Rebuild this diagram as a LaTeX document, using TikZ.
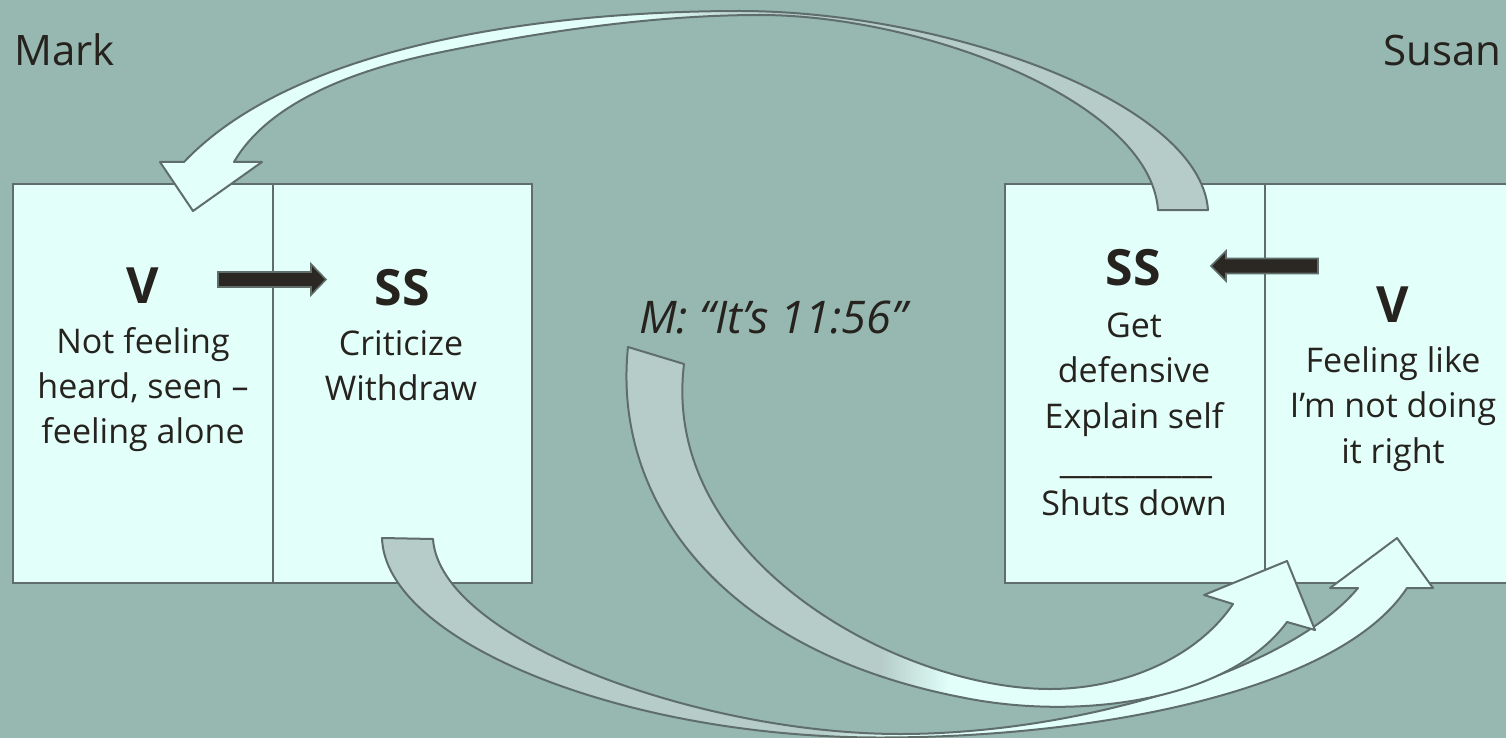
\documentclass[tikz,border=0pt]{standalone}
\usepackage{fontspec}
\setmainfont{Open Sans}
\definecolor{bg}{RGB}{151,184,177}
\definecolor{cellfill}{RGB}{226,255,250}
\definecolor{bandgray}{RGB}{181,204,200}
\definecolor{edge}{RGB}{95,110,106}
\definecolor{ink}{RGB}{38,34,30}
\definecolor{blockink}{RGB}{43,39,34}
\begin{document}
\begin{tikzpicture}[x=1pt,y=-1pt,
  cell/.style={draw=edge, line width=2.2pt, fill=cellfill, anchor=north west,
    minimum height=399pt, minimum width=260pt, inner sep=0pt},
  bodytext/.style={text=ink, font=\fontsize{34}{45}\selectfont, anchor=base, inner sep=0pt},
  titletext/.style={text=ink, font=\bfseries\fontsize{50}{52}\selectfont, anchor=base, inner sep=0pt},
  persontext/.style={text=ink, font=\fontsize{42}{46}\selectfont, anchor=base west, inner sep=0pt},
  band/.style={draw=edge, line width=2pt, line join=round},
  blockarrow/.style={draw=edge, line width=1.6pt, fill=blockink, line join=miter}]

\fill[bg] (0,0) rectangle (1506,738);
\useasboundingbox (0,0) rectangle (1506,738);

% Mark's two cells
\node[cell] (mv) at (12,183) {};
\node[cell, minimum width=259pt] (mss) at (272,183) {};
% Susan's two cells
\node[cell] (sss) at (1004,183) {};
\node[cell] (sv) at (1264,183) {};

% names
\node[persontext] (mark) at (14,66) {Mark};
\node[persontext] (susan) at (1383,66) {Susan};

% Mark: vulnerability
\node[titletext] (mvt) at (143,303) {V};
\node[bodytext] (mv1) at (143,353) {Not feeling};
\node[bodytext] (mv2) at (143,398) {heard, seen –};
\node[bodytext] (mv3) at (143,443) {feeling alone};
% Mark: survival strategy
\node[titletext] (msst) at (402,305) {SS};
\node[bodytext] (mss1) at (401,355) {Criticize};
\node[bodytext] (mss2) at (401,400) {Withdraw};

% Susan: survival strategy
\node[titletext] (ssst) at (1133,285) {SS};
\node[bodytext] (sss1) at (1134,337) {Get};
\node[bodytext] (sss2) at (1134,382) {defensive};
\node[bodytext] (sss3) at (1134,428) {Explain self};
\node[bodytext] (sss4) at (1136,473) {\_\_\_\_\_\_\_\_\_\_};
\node[bodytext] (sss5) at (1134,515) {Shuts down};
% Susan: vulnerability
\node[titletext] (svt) at (1393,322) {V};
\node[bodytext] (sv1) at (1393,372) {Feeling like};
\node[bodytext] (sv2) at (1393,417) {I’m not doing};
\node[bodytext] (sv3) at (1393,463) {it right};

% the trigger
\node[text=ink, font=\itshape\fontsize{45}{48}\selectfont, anchor=base, inner sep=0pt]
  (trigger) at (773,333) {M: “It’s 11:56”};

% block arrows V -> SS
\draw[blockarrow] (218,272) -- (311,272) -- (311,264) -- (326,279.5) -- (311,295)
  -- (311,287) -- (218,287) -- cycle;
\draw[blockarrow] (1318,258.5) -- (1226,258.5) -- (1226,251) -- (1211,266) -- (1226,281)
  -- (1226,273.5) -- (1318,273.5) -- cycle;

% lower sweep: Mark's SS to Susan's V
\draw[band, path picture={
    \fill[bandgray] (0,-50) rectangle (820,800);
    \shade[left color=bandgray, right color=cellfill] (820,-50) rectangle (900,800);
    \fill[cellfill] (900,-50) rectangle (1600,800);}]
  (433,539) -- (382,538)
  .. controls (385,640) and (620,737.5) .. (880,737.5)
  .. controls (1100,737.5) and (1340,690) .. (1407,588)
  -- (1433,588) -- (1397,538) -- (1330,588) -- (1358,588)
  .. controls (1290,670) and (1080,734) .. (900,734)
  .. controls (700,734) and (440,640) .. (433,539)
  -- cycle;

% middle sweep: the trigger to Susan's SS
\draw[band, path picture={
    \fill[bandgray] (0,-50) rectangle (880,800);
    \shade[left color=bandgray, right color=cellfill] (880,-50) rectangle (950,800);
    \fill[cellfill] (950,-50) rectangle (1600,800);}]
  (684,364) -- (628,347)
  .. controls (612,500) and (720,650) .. (960,697)
  .. controls (1080,722) and (1230,700) .. (1287,622)
  -- (1315,630) -- (1287,561) -- (1204,595) -- (1233,604)
  .. controls (1195,660) and (1120,689) .. (1050,689)
  .. controls (900,689) and (660,560) .. (684,364)
  -- cycle;

% upper sweep: Susan's SS back to Mark's V
\draw[band, path picture={
    \fill[cellfill] (0,-50) rectangle (640,800);
    \shade[left color=cellfill, right color=bandgray] (640,-50) rectangle (760,800);
    \fill[bandgray] (760,-50) rectangle (1600,800);}]
  (160,162) -- (184,162)
  .. controls (300,40) and (560,11) .. (740,11)
  .. controls (940,11) and (1200,100) .. (1208,210)
  -- (1158,210)
  .. controls (1150,100) and (920,15) .. (760,15)
  .. controls (650,15) and (534,33) .. (437,53)
  .. controls (360,69) and (270,100) .. (234,162)
  -- (262,162) -- (193,211) -- cycle;
\end{tikzpicture}
\end{document}
